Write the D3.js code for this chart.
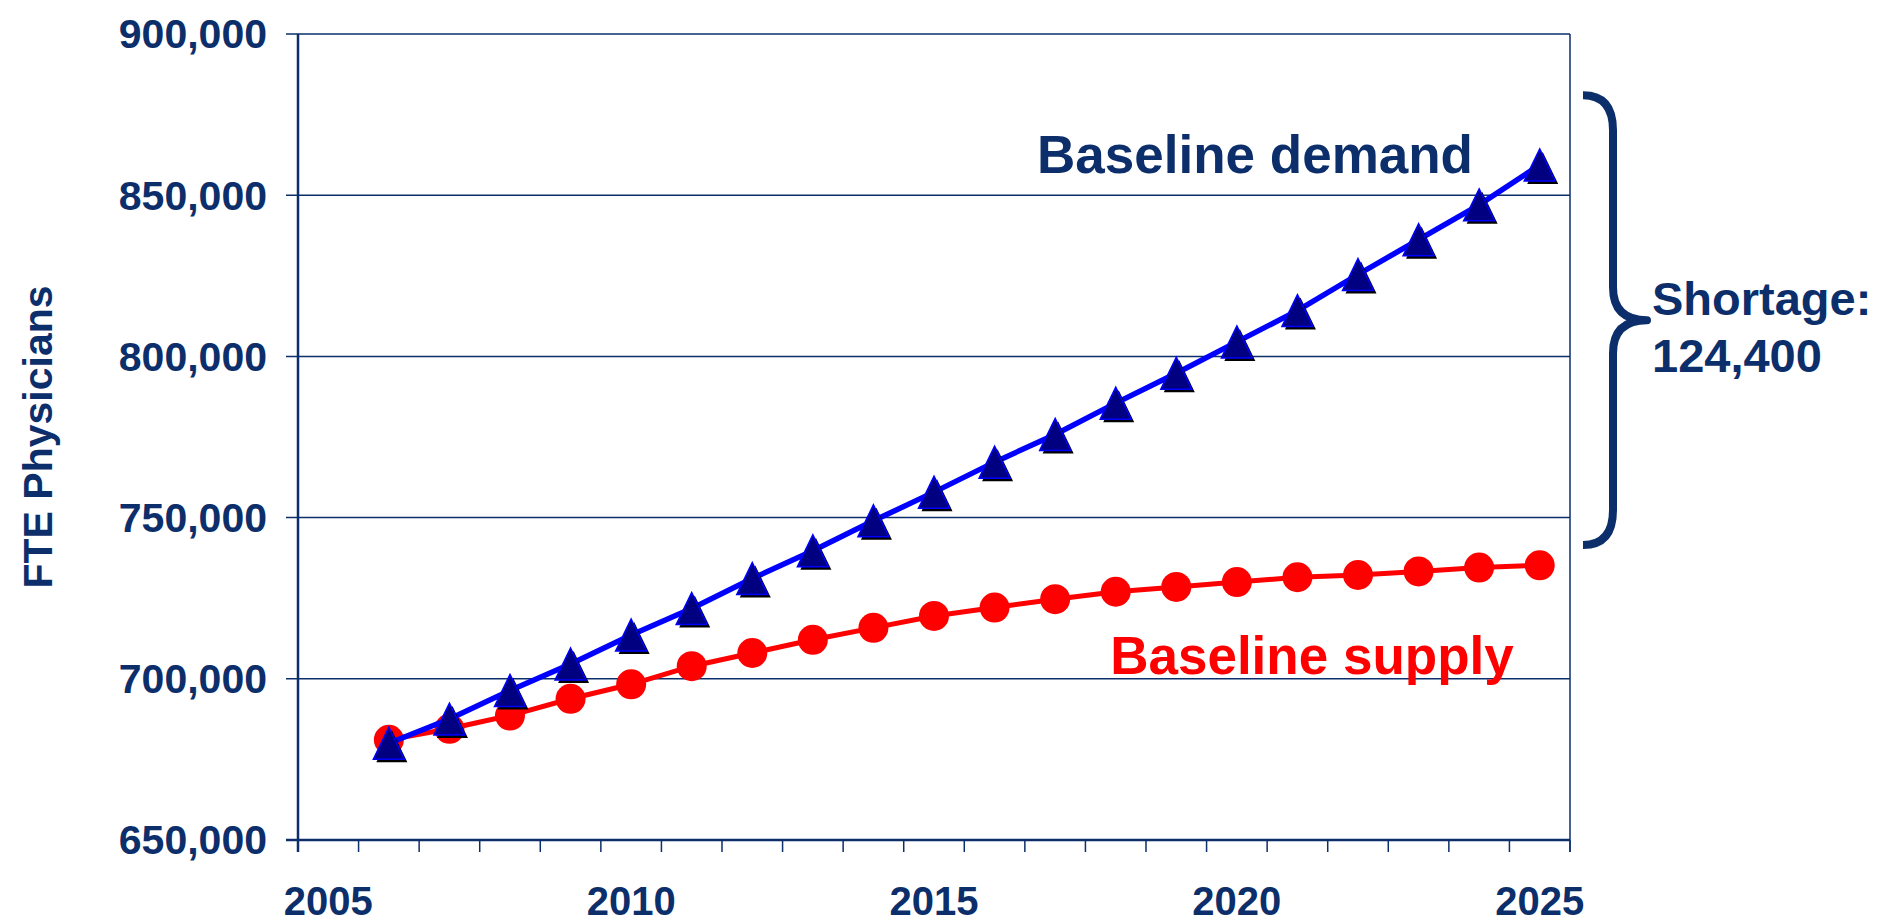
<!DOCTYPE html>
<html>
<head>
<meta charset="utf-8">
<script src="https://cdn.jsdelivr.net/npm/d3@7"></script>
<style>
  body { margin: 0; background: #fff; }
  text { font-family: "Liberation Sans", Arial, sans-serif; font-weight: bold; }
</style>
</head>
<body>
<div id="chart"></div>
<script>
// categories (2005 is an empty slot on the category axis)
var years = [2005, 2006, 2007, 2008, 2009, 2010, 2011, 2012, 2013, 2014, 2015,
             2016, 2017, 2018, 2019, 2020, 2021, 2022, 2023, 2024, 2025];
var dataYears = [2006, 2007, 2008, 2009, 2010, 2011, 2012, 2013, 2014, 2015,
                 2016, 2017, 2018, 2019, 2020, 2021, 2022, 2023, 2024, 2025];

var demand = [680000, 687500, 696400, 704600, 713600, 721800, 731100, 739700, 749000, 757900,
              767200, 775800, 785500, 794800, 804500, 814200, 825400, 836200, 847000, 859400];
var supply = [681100, 684500, 688600, 693800, 698300, 703900, 708000, 712100, 715800, 719500,
              722100, 724700, 727000, 728500, 730000, 731500, 732200, 733300, 734500, 735200];

var yTicks = [650000, 700000, 750000, 800000, 850000, 900000];
var xLabels = [2005, 2010, 2015, 2020, 2025];

var navy = "#0c2f6b";

const W = 1881, H = 924;
const plotLeft = 298, plotRight = 1570, plotTop = 34, plotBottom = 840;

var svg = d3.select("#chart").append("svg")
    .attr("width", W)
    .attr("height", H);

var x = d3.scaleLinear().domain([2004.5, 2025.5]).range([plotLeft, plotRight]);
var y = d3.scaleLinear().domain([650000, 900000]).range([plotBottom, plotTop]);

// gridlines + y ticks
svg.append("g").selectAll("line")
    .data(yTicks)
    .enter().append("line")
    .attr("x1", plotLeft - 12)
    .attr("x2", plotRight)
    .attr("y1", function (d) { return y(d); })
    .attr("y2", function (d) { return y(d); })
    .attr("stroke", navy)
    .attr("stroke-width", 1.5);

svg.append("g").selectAll("text")
    .data(yTicks)
    .enter().append("text")
    .attr("x", 267)
    .attr("y", function (d) { return y(d); })
    .attr("dy", "0.35em")
    .attr("text-anchor", "end")
    .attr("font-size", 41)
    .attr("fill", navy)
    .text(d3.format(","));

// x ticks at category boundaries
var bounds = years.concat([2026]).map(function (d) { return d - 0.5; });
svg.append("g").selectAll("line")
    .data(bounds)
    .enter().append("line")
    .attr("x1", function (d) { return x(d); })
    .attr("x2", function (d) { return x(d); })
    .attr("y1", plotBottom)
    .attr("y2", plotBottom + 12)
    .attr("stroke", navy)
    .attr("stroke-width", 1.5);

svg.append("g").selectAll("text")
    .data(xLabels)
    .enter().append("text")
    .attr("x", function (d) { return x(d); })
    .attr("y", plotBottom + 75)
    .attr("text-anchor", "middle")
    .attr("font-size", 40)
    .attr("fill", navy)
    .text(function (d) { return d; });

// frame: right border thin, left + bottom axis thicker
svg.append("line")
    .attr("x1", plotRight).attr("x2", plotRight)
    .attr("y1", plotTop).attr("y2", plotBottom + 12)
    .attr("stroke", navy).attr("stroke-width", 1.5);
svg.append("line")
    .attr("x1", plotLeft).attr("x2", plotLeft)
    .attr("y1", plotTop).attr("y2", plotBottom + 12)
    .attr("stroke", navy).attr("stroke-width", 2.5);
svg.append("line")
    .attr("x1", plotLeft - 12).attr("x2", plotRight)
    .attr("y1", plotBottom).attr("y2", plotBottom)
    .attr("stroke", navy).attr("stroke-width", 2.5);

// y axis title
svg.append("text")
    .attr("transform", "translate(52," + 437 + ") rotate(-90)")
    .attr("text-anchor", "middle")
    .attr("font-size", 41)
    .attr("fill", navy)
    .text("FTE Physicians");

var line = d3.line()
    .x(function (d, i) { return x(dataYears[i]); })
    .y(function (d) { return y(d); });

// supply series
svg.append("path")
    .datum(supply)
    .attr("d", line)
    .attr("fill", "none")
    .attr("stroke", "#ff0000")
    .attr("stroke-width", 5);

svg.append("g").selectAll("circle")
    .data(supply)
    .enter().append("circle")
    .attr("cx", function (d, i) { return x(dataYears[i]); })
    .attr("cy", function (d) { return y(d); })
    .attr("r", 15)
    .attr("fill", "#ff0000");

// demand series
svg.append("path")
    .datum(demand)
    .attr("d", line)
    .attr("fill", "none")
    .attr("stroke", "#0000ff")
    .attr("stroke-width", 5.5);

var tri = "M0,-16L15.5,16L-15.5,16Z";
var marks = svg.append("g").selectAll("g")
    .data(demand)
    .enter().append("g")
    .attr("transform", function (d, i) {
        return "translate(" + x(dataYears[i]) + "," + y(d) + ")";
    });
marks.append("path")
    .attr("d", tri)
    .attr("transform", "translate(3,3)")
    .attr("fill", "#000");
marks.append("path")
    .attr("d", tri)
    .attr("fill", "#000080")
    .attr("stroke", "#0000ff")
    .attr("stroke-width", 1.5);

// annotations
svg.append("text")
    .attr("x", x(2020.3))
    .attr("y", y(857000))
    .attr("text-anchor", "middle")
    .attr("font-size", 53)
    .attr("fill", navy)
    .text("Baseline demand");

svg.append("text")
    .attr("x", x(2021.24))
    .attr("y", y(701500))
    .attr("text-anchor", "middle")
    .attr("font-size", 53)
    .attr("fill", "#ff0000")
    .text("Baseline supply");

// brace
var bTop = y(881000), bBot = y(741500), bMid = (bTop + bBot) / 2;
var bx0 = plotRight + 13, bx1 = plotRight + 43, bx2 = plotRight + 77;
var bp = d3.path();
bp.moveTo(bx0, bTop);
bp.quadraticCurveTo(bx1, bTop, bx1, bTop + 35);
bp.lineTo(bx1, bMid - 33);
bp.quadraticCurveTo(bx1, bMid, bx2, bMid);
bp.quadraticCurveTo(bx1, bMid, bx1, bMid + 33);
bp.lineTo(bx1, bBot - 35);
bp.quadraticCurveTo(bx1, bBot, bx0, bBot);
svg.append("path")
    .attr("d", bp.toString())
    .attr("fill", "none")
    .attr("stroke", navy)
    .attr("stroke-width", 8)
    .attr("stroke-linejoin", "round");

svg.append("text")
    .attr("x", plotRight + 82)
    .attr("y", 315)
    .attr("font-size", 47)
    .attr("fill", navy)
    .text("Shortage:");
svg.append("text")
    .attr("x", plotRight + 82)
    .attr("y", 372)
    .attr("font-size", 47)
    .attr("fill", navy)
    .text("124,400");
</script>
</body>
</html>
